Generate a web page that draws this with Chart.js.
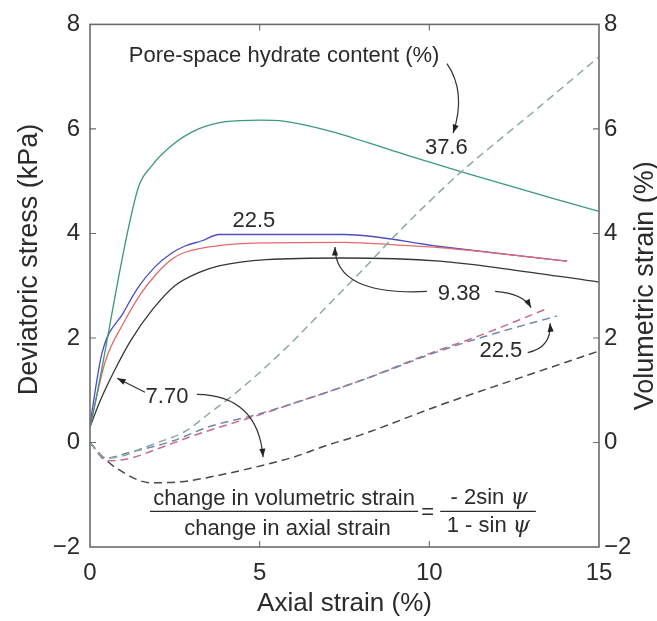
<!DOCTYPE html>
<html>
<head>
<meta charset="utf-8">
<title>Deviatoric stress and volumetric strain</title>
<script src="https://cdn.jsdelivr.net/npm/chart.js@4.4.0/dist/chart.umd.min.js"></script>
<style>
  html, body { margin: 0; padding: 0; background: #fff; }
  #strain-chart { display: block; }
</style>
</head>
<body>
<canvas id="strain-chart" width="657" height="621"></canvas>
<script>
// axis ticks
var xTicks = [0, 5, 10, 15];
var yTicks = [-2, 0, 2, 4, 6, 8];

// deviatoric stress (kPa) vs axial strain (%), one curve per hydrate content
var strain376 = [0, 0.15, 1.41, 1.8, 2.4, 3.2, 4.0, 5.0, 5.7, 7.07, 9.09, 11, 15];
var stress376 = [0.3, 0.75, 4.85, 5.28, 5.68, 6.0, 6.14, 6.17, 6.15, 5.96, 5.55, 5.17, 4.42];

var strain225 = [0, 0.35, 1.0, 1.4, 1.9, 2.4, 2.8, 3.3, 3.8, 7.5, 10.3, 14.06];
var stress225 = [0.35, 1.7, 2.5, 2.95, 3.35, 3.62, 3.76, 3.86, 3.98, 3.98, 3.75, 3.47];

var strain938 = [0, 0.45, 1.0, 1.5, 1.95, 2.4, 2.8, 4.0, 5.2, 7.5, 9, 10.5, 14.06];
var stress938 = [0.3, 1.55, 2.3, 2.85, 3.22, 3.5, 3.64, 3.78, 3.82, 3.83, 3.78, 3.72, 3.47];

var strain770 = [0, 0.3, 0.7, 1.2, 1.85, 2.5, 3.2, 3.8, 5.2, 7.5, 10.3, 12.5, 15];
var stress770 = [0.3, 0.8, 1.35, 1.95, 2.55, 3.0, 3.25, 3.38, 3.5, 3.53, 3.47, 3.3, 3.07];

// volumetric strain (%) vs axial strain (%)
var volX376 = [0, 0.5, 1.0, 1.5, 2, 2.8, 3.5, 4.3, 5, 6, 6.87, 8, 8.93, 10.5, 11.1, 13, 15];
var volY376 = [0, -0.3, -0.25, -0.12, 0, 0.21, 0.55, 0.95, 1.34, 1.95, 2.53, 3.28, 3.92, 4.92, 5.27, 6.29, 7.38];

var volX225 = [0, 0.45, 1.1, 2.4, 3.5, 5, 8, 10.3, 12, 13.76];
var volY225 = [0, -0.3, -0.2, 0.02, 0.3, 0.55, 1.19, 1.75, 2.1, 2.42];

var volX938 = [0, 0.5, 1.2, 2, 3, 4, 5, 6, 8, 10, 11.5, 13.5];
var volY938 = [0, -0.35, -0.3, -0.12, 0.12, 0.33, 0.53, 0.75, 1.19, 1.7, 2.05, 2.57];

var volX770 = [0, 0.3, 0.8, 1.8, 2.7, 4, 5.2, 6, 7, 8, 10.3, 12.5, 15];
var volY770 = [0, -0.23, -0.5, -0.77, -0.75, -0.6, -0.42, -0.28, -0.05, 0.15, 0.71, 1.2, 1.75];

var FONT = '"Liberation Sans", Arial, Helvetica, sans-serif';
var INK = '#2b2b2b';

function pts(xs, ys) {
  return xs.map(function (x, i) { return { x: x, y: ys[i] }; });
}

function minusLabel(v) {
  return v < 0 ? '\u2212' + Math.abs(v) : String(v);
}

function solid(label, xs, ys, color) {
  return { label: label, data: pts(xs, ys), borderColor: color, borderWidth: 1.3, yAxisID: 'y' };
}

function dashed(label, xs, ys, color) {
  return { label: label, data: pts(xs, ys), borderColor: color, borderWidth: 1.5,
           borderDash: [8, 5], yAxisID: 'y2' };
}

// text followed by an italic psi, centred on x
function withPsi(c, text, x, y) {
  var plain = '22px ' + FONT, ital = 'italic 22px "DejaVu Serif", serif';
  c.font = plain;
  var w1 = c.measureText(text).width;
  c.font = ital;
  var w2 = c.measureText('\u03c8').width;
  var x0 = x - (w1 + w2) / 2;
  c.textAlign = 'left';
  c.font = plain;
  c.fillText(text, x0, y);
  c.font = ital;
  c.fillText('\u03c8', x0 + w1, y);
  c.textAlign = 'center';
  c.font = plain;
}

// frame, inward ticks, vertical titles, labels and arrows
var notesPlugin = {
  id: 'notes',
  afterDatasetsDraw: function (chart) {
    var c = chart.ctx, a = chart.chartArea;
    var sx = chart.scales.x, sy = chart.scales.y;
    function px(v) { return sx.getPixelForValue(v); }
    function py(v) { return sy.getPixelForValue(v); }

    c.save();
    c.strokeStyle = '#6b6b6b';
    c.lineWidth = 1.6;
    c.strokeRect(a.left, a.top, a.right - a.left, a.bottom - a.top);

    c.lineWidth = 1.1;
    c.beginPath();
    xTicks.forEach(function (v) {
      if (v <= sx.min || v >= sx.max) return;
      c.moveTo(px(v), a.bottom); c.lineTo(px(v), a.bottom - 6);
      c.moveTo(px(v), a.top); c.lineTo(px(v), a.top + 6);
    });
    yTicks.forEach(function (v) {
      if (v <= sy.min || v >= sy.max) return;
      c.moveTo(a.left, py(v)); c.lineTo(a.left + 6, py(v));
      c.moveTo(a.right, py(v)); c.lineTo(a.right - 6, py(v));
    });
    c.stroke();

    // vertical axis titles, both reading bottom to top
    c.fillStyle = INK;
    c.textAlign = 'center';
    c.textBaseline = 'middle';
    c.font = '27px ' + FONT;
    c.save();
    c.translate(30, py(3.5));
    c.rotate(-Math.PI / 2);
    c.fillText('Deviatoric stress (kPa)', 0, 0);
    c.restore();
    c.save();
    c.translate(646, py(3.0));
    c.rotate(-Math.PI / 2);
    c.fillText('Volumetric strain (%)', 0, 0);
    c.restore();

    // curve labels
    c.font = '22px ' + FONT;
    c.fillText('Pore-space hydrate content (%)', px(5.72), py(7.4));
    c.fillText('37.6', px(10.5), py(5.63));
    c.fillText('22.5', px(4.83), py(4.23));
    c.fillText('9.38', px(10.88), py(2.85));
    c.fillText('22.5', px(12.11), py(1.75));
    c.fillText('7.70', px(2.27), py(0.87));

    // dilatancy relation
    c.fillText('change in volumetric strain', px(5.72), py(-1.08));
    c.fillText('change in axial strain', px(5.82), py(-1.66));
    c.fillText('=', px(9.95), py(-1.34));
    withPsi(c, '- 2sin ', px(11.76), py(-1.06));
    withPsi(c, '1 - sin ', px(11.74), py(-1.6));
    c.strokeStyle = INK;
    c.lineWidth = 1.2;
    c.beginPath();
    c.moveTo(px(1.77), py(-1.32)); c.lineTo(px(9.67), py(-1.32));
    c.moveTo(px(10.32), py(-1.32)); c.lineTo(px(13.14), py(-1.32));
    c.stroke();

    // arrows: [start, control, tip] in data units
    var arrows = [
      [[10.52, 7.25], [11.1, 6.7], [10.7, 5.92]],
      [[9.93, 2.89], [7.22, 2.81], [7.22, 3.74]],
      [[11.94, 2.89], [12.76, 2.85], [13.0, 2.58]],
      [[12.9, 1.72], [13.6, 1.81], [13.56, 2.28]],
      [[1.62, 0.96], [1.2, 1.1], [0.8, 1.23]],
      [[3.15, 0.92], [4.95, 0.9], [5.1, -0.28]]
    ];
    c.strokeStyle = '#333';
    c.fillStyle = '#222';
    c.lineWidth = 1.2;
    arrows.forEach(function (ar) {
      var x0 = px(ar[0][0]), y0 = py(ar[0][1]);
      var xc = px(ar[1][0]), yc = py(ar[1][1]);
      var x1 = px(ar[2][0]), y1 = py(ar[2][1]);
      c.beginPath();
      c.moveTo(x0, y0);
      c.quadraticCurveTo(xc, yc, x1, y1);
      c.stroke();
      var ang = Math.atan2(y1 - yc, x1 - xc);
      c.beginPath();
      c.moveTo(x1, y1);
      c.lineTo(x1 - 9 * Math.cos(ang - 0.35), y1 - 9 * Math.sin(ang - 0.35));
      c.lineTo(x1 - 9 * Math.cos(ang + 0.35), y1 - 9 * Math.sin(ang + 0.35));
      c.closePath();
      c.fill();
    });
    c.restore();
  }
};

var ctx = document.getElementById('strain-chart');

var chartData = {
  datasets: [
    dashed('37.6 vol', volX376, volY376, '#8fa9a1'),
    dashed('22.5 vol', volX225, volY225, '#7186ae'),
    dashed('9.38 vol', volX938, volY938, '#c96b8a'),
    dashed('7.70 vol', volX770, volY770, '#474747'),
    solid('37.6', strain376, stress376, '#3b9a76'),
    solid('9.38', strain938, stress938, '#e46a6a'),
    solid('22.5', strain225, stress225, '#4c4cc4'),
    solid('7.70', strain770, stress770, '#363636')
  ]
};

var tickFont = { family: FONT, size: 24 };

var config = {
  type: 'line',
  data: chartData,
  options: {
    responsive: false,
    animation: false,
    devicePixelRatio: 1,
    layout: { padding: { top: 17, left: 0, right: 0, bottom: 0 } },
    elements: {
      point: { radius: 0 },
      line: { cubicInterpolationMode: 'monotone', fill: false }
    },
    plugins: { legend: { display: false }, tooltip: { enabled: false } },
    scales: {
      x: {
        type: 'linear', position: 'bottom', min: 0, max: 15,
        afterBuildTicks: function (s) { s.ticks = xTicks.map(function (v) { return { value: v }; }); },
        afterFit: function (s) { s.height = 74; },
        grid: { display: false, drawTicks: false },
        border: { display: false },
        ticks: { font: tickFont, color: INK, padding: 12, maxRotation: 0, callback: minusLabel },
        title: { display: true, text: 'Axial strain (%)', color: INK,
                 font: { family: FONT, size: 26 }, padding: { top: 0, bottom: 2 } }
      },
      y: {
        type: 'linear', position: 'left', min: -2, max: 8,
        afterBuildTicks: function (s) { s.ticks = yTicks.map(function (v) { return { value: v }; }); },
        afterFit: function (s) { s.width = 90; },
        grid: { display: false, drawTicks: false },
        border: { display: false },
        ticks: { font: tickFont, color: INK, padding: 10, callback: minusLabel }
      },
      y2: {
        type: 'linear', position: 'right', min: -2, max: 8,
        afterBuildTicks: function (s) { s.ticks = yTicks.map(function (v) { return { value: v }; }); },
        afterFit: function (s) { s.width = 58; },
        grid: { display: false, drawTicks: false },
        border: { display: false },
        ticks: { font: tickFont, color: INK, padding: 5, callback: minusLabel }
      }
    }
  },
  plugins: [notesPlugin]
};

var strainChart = new Chart(ctx, config);
</script>
</body>
</html>
